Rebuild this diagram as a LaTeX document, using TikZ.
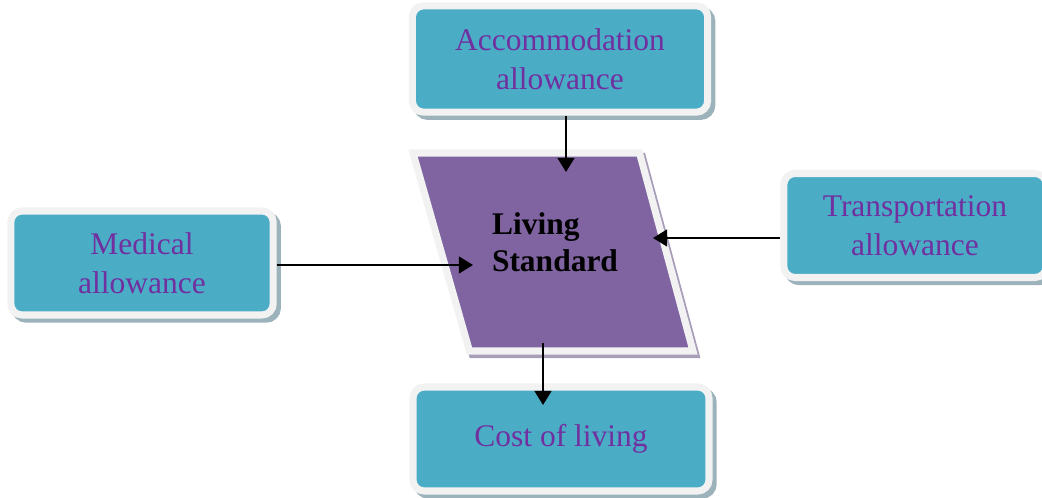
\documentclass[tikz,border=0pt]{standalone}
\usepackage{fontspec}
\setmainfont{Liberation Serif}
\usepackage{tikz}
\usetikzlibrary{positioning}
\usetikzlibrary{positioning,shapes,shadows,arrows.meta}

\definecolor{boxteal}{HTML}{4BACC6}
\definecolor{rimgray}{HTML}{F2F2F2}
\definecolor{textpurple}{HTML}{7030A0}
\definecolor{lspurple}{HTML}{8064A2}
\definecolor{boxshadow}{HTML}{9CB3BB}
\definecolor{lsshadow}{HTML}{A79DB8}

\begin{document}
\begin{tikzpicture}[
    box/.style={rectangle, rounded corners=8pt, fill=boxteal, draw=rimgray, line width=5pt,
        text=textpurple, align=center, font=\fontsize{22.4}{28}\selectfont,
        drop shadow={shadow xshift=3pt, shadow yshift=-3pt, fill=boxshadow, draw=boxshadow, line width=5pt, opacity=1}},
    living/.style={fill=lspurple, draw=rimgray, line width=5pt, line join=miter,
        drop shadow={shadow xshift=2pt, shadow yshift=-2.5pt, fill=lsshadow, draw=lsshadow, line width=5pt, opacity=1}},
    arr/.style={-{Triangle[length=10pt,width=12pt]}, line width=1.3pt}
]
\useasboundingbox (0,0) rectangle (26.05,12.45);

\node[box, minimum width=7.38cm, minimum height=2.66cm] (accom) at (14.0,10.975) {Accommodation\\allowance};
\node[box, minimum width=6.56cm, minimum height=2.6cm] (medical) at (3.55,5.875) {Medical\\allowance};
\node[box, minimum width=6.56cm, minimum height=2.6cm] (transport) at (22.875,6.8125) {Transportation\\allowance};
\node[box, minimum width=7.4cm, minimum height=2.6cm] (cost) at (14.025,1.475) {Cost of living};

% the slanted box
\coordinate (ls-tl) at (10.325,8.625);
\coordinate (ls-tr) at (15.9875,8.625);
\coordinate (ls-br) at (17.325,3.675);
\coordinate (ls-bl) at (11.7375,3.675);
\draw[living] (ls-tl) -- (ls-tr) -- (ls-br) -- (ls-bl) -- cycle;
\node[align=left, font=\bfseries\fontsize{22.4}{26.5}\selectfont] (living) at (13.875,6.4) {Living\\Standard};

% arrow tips inside the shapes
\coordinate (in-n) at (14.15,8.15);
\coordinate (in-e) at (16.325,6.5);
\coordinate (in-w) at (11.825,5.825);
\coordinate (out-s) at (13.575,3.875);
\coordinate (cost-n) at (13.575,2.325);

\draw[arr] (accom.south -| in-n) -- (in-n);
\draw[arr] (transport.west |- in-e) -- (in-e);
\draw[arr] (medical.east |- in-w) -- (in-w);
\draw[arr] (out-s) -- (cost-n);
\end{tikzpicture}
\end{document}
